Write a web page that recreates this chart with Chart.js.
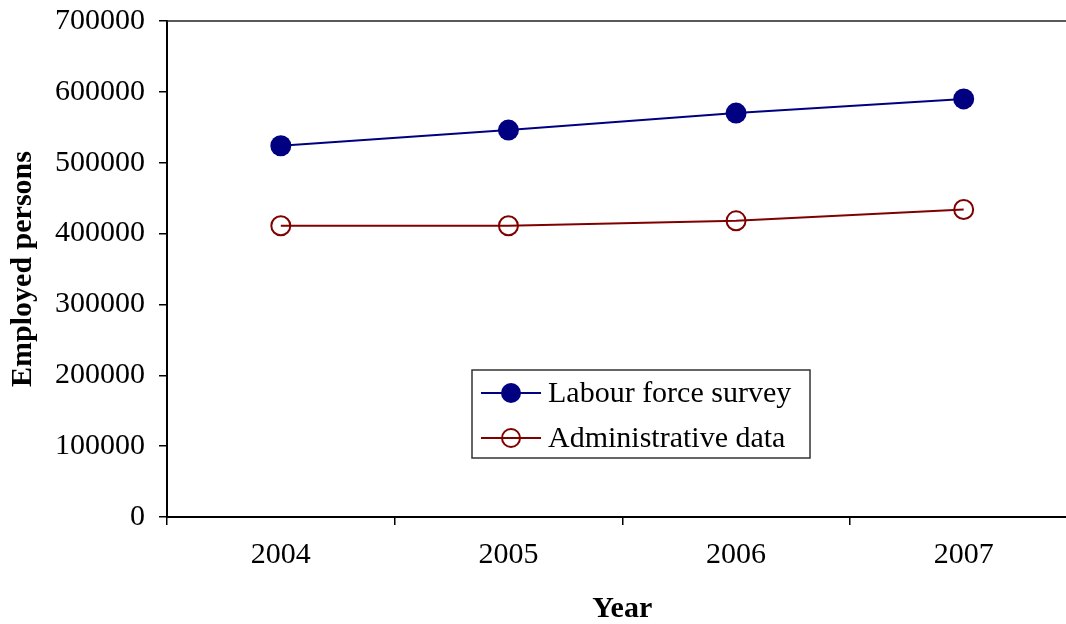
<!DOCTYPE html>
<html><head><meta charset="utf-8">
<script src="https://cdn.jsdelivr.net/npm/chart.js@4"></script>
<style>
html,body{margin:0;padding:0;overflow:hidden;background:#fff;width:1066px;height:624px}
#wrap{position:absolute;left:0;top:0;width:1089px;height:624px}
</style>
</head><body><div id="wrap"><canvas id="c"></canvas></div>
<script>
const years = ['2004', '2005', '2006', '2007'];
const labourForceSurvey = [524000, 546000, 570000, 590000];
const administrativeData = [411000, 411000, 418000, 434000];
const yTickValues = [0, 100000, 200000, 300000, 400000, 500000, 600000, 700000];
const seriesNames = ['Labour force survey', 'Administrative data'];
const yTitle = 'Employed persons';
const xTitle = 'Year';

const FONT = '"Liberation Serif", "Times New Roman", serif';

const frameAndLegend = {
  id: 'frameAndLegend',
  afterDraw(chart) {
    const ctx = chart.ctx;
    const a = chart.chartArea;
    ctx.save();
    ctx.strokeStyle = '#222';
    ctx.lineWidth = 1.5;
    ctx.beginPath();
    ctx.moveTo(a.left, a.top);
    ctx.lineTo(a.right, a.top);
    ctx.stroke();
    const bx = 472, by = 370, bw = 338, bh = 88;
    ctx.fillStyle = '#fff';
    ctx.fillRect(bx, by, bw, bh);
    ctx.strokeStyle = '#333';
    ctx.lineWidth = 1.5;
    ctx.strokeRect(bx, by, bw, bh);
    const rows = [393, 438];
    chart.data.datasets.forEach((ds, i) => {
      const y = rows[i];
      ctx.strokeStyle = ds.borderColor;
      ctx.lineWidth = 2;
      ctx.beginPath();
      ctx.moveTo(481, y);
      ctx.lineTo(541, y);
      ctx.stroke();
      ctx.beginPath();
      ctx.arc(511, y, i === 0 ? 10 : 9, 0, Math.PI * 2);
      if (i === 0) {
        ctx.fillStyle = ds.pointBackgroundColor;
        ctx.fill();
      } else {
        ctx.lineWidth = 2;
        ctx.strokeStyle = ds.pointBorderColor;
        ctx.stroke();
      }
      ctx.fillStyle = '#000';
      ctx.font = '30px ' + FONT;
      ctx.textBaseline = 'middle';
      ctx.textAlign = 'left';
      ctx.fillText(ds.label, 548, y + 1);
    });
    ctx.restore();
  }
};

new Chart(document.getElementById('c'), {
  type: 'line',
  data: {
    labels: years,
    datasets: [
      {
        label: seriesNames[0],
        data: labourForceSurvey,
        borderColor: '#000080',
        backgroundColor: '#000080',
        borderWidth: 2,
        pointRadius: 10.5,
        pointBackgroundColor: '#000080',
        pointBorderColor: '#000080',
        pointBorderWidth: 0,
        tension: 0
      },
      {
        label: seriesNames[1],
        data: administrativeData,
        borderColor: '#800000',
        backgroundColor: '#800000',
        borderWidth: 2,
        pointRadius: 9.5,
        pointBackgroundColor: 'rgba(0,0,0,0)',
        pointBorderColor: '#800000',
        pointBorderWidth: 2,
        tension: 0
      }
    ]
  },
  options: {
    responsive: true,
    maintainAspectRatio: false,
    animation: false,
    layout: { padding: { top: 21, left: 0, right: 3, bottom: 0 } },
    plugins: { legend: { display: false }, tooltip: { enabled: false } },
    scales: {
      x: {
        type: 'category',
        offset: true,
        grid: { display: true, drawOnChartArea: false, drawTicks: true, tickLength: 8, color: '#000', offset: true, lineWidth: 1.5 },
        border: { display: true, color: '#000', width: 2 },
        ticks: { color: '#000', font: { family: FONT, size: 30 }, padding: 12, maxRotation: 0 },
        title: { display: true, text: xTitle, color: '#000', font: { family: FONT, size: 30, weight: 'bold', lineHeight: 1 }, padding: { top: 0, bottom: 0 } },
        afterFit(scale) { scale.height = 107; scale.paddingLeft = 0; scale.paddingRight = 0; }
      },
      y: {
        min: 0,
        max: 700000,
        afterBuildTicks(scale) { scale.ticks = yTickValues.map(v => ({ value: v })); },
        grid: { display: true, drawOnChartArea: false, drawTicks: true, tickLength: 8, color: '#000', lineWidth: 1.5 },
        border: { display: true, color: '#000', width: 2 },
        ticks: { color: '#000', font: { family: FONT, size: 30 }, padding: 14, callback: v => String(v) },
        title: { display: true, text: yTitle, color: '#000', font: { family: FONT, size: 30, weight: 'bold', lineHeight: 1 }, padding: { top: 8, bottom: 0 } },
        afterFit(scale) { scale.width = 167; scale.paddingTop = 0; scale.paddingBottom = 0; }
      }
    }
  },
  plugins: [frameAndLegend]
});
</script>
</body></html>
